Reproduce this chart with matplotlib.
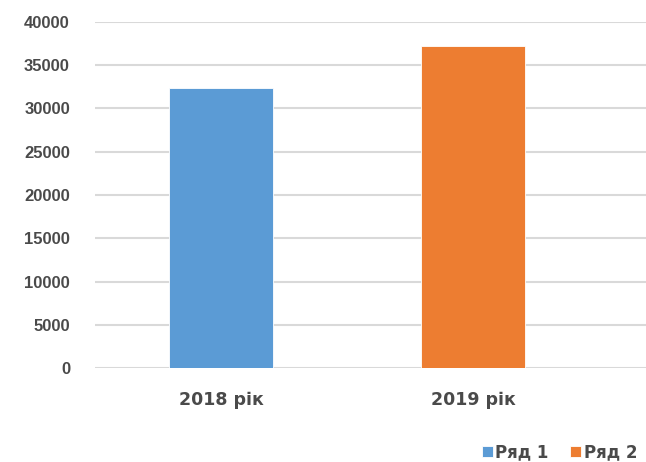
import matplotlib
matplotlib.use("Agg")
import matplotlib.pyplot as plt

categories = ["2018 рік", "2019 рік"]
series_names = ["Ряд 1", "Ряд 2"]
values = [32300, 37200]
colors = ["#5B9BD5", "#ED7D31"]
yticks = [0, 5000, 10000, 15000, 20000, 25000, 30000, 35000, 40000]

plt.rcParams['font.family'] = ['Liberation Sans', 'DejaVu Sans']
text_color = "#4a4a4a"

fig = plt.figure(figsize=(6.46, 4.62), dpi=100)
W, H = 646, 462
ax = fig.add_axes([95 / W, 1 - 368.3 / H, (646 - 95) / W, (368.3 - 21.6) / H])

bars = []
for i, (v, c, n) in enumerate(zip(values, colors, series_names)):
    b = ax.bar(i, v, width=0.413, color=c, edgecolor="white", linewidth=0.6,
               label=n, zorder=3)
    bars.append(b)

ax.set_xlim(-0.5, -0.5 + (646 - 95) / 252)
ax.set_ylim(0, 40000)
ax.set_yticks(yticks)
ax.set_yticklabels([str(t) for t in yticks])
ax.set_xticks(range(len(categories)))
ax.set_xticklabels(categories)
ax.grid(axis="y", color="#D9D9D9", linewidth=1.5, zorder=0)
for s in ["top", "right", "left", "bottom"]:
    ax.spines[s].set_visible(False)
ax.tick_params(axis="both", length=0, labelcolor=text_color)
ax.tick_params(axis="y", pad=18, labelsize=12)
ax.tick_params(axis="x", pad=16)
for lab in ax.get_yticklabels():
    lab.set_fontweight("bold")
for lab in ax.get_xticklabels():
    lab.set_fontweight("bold")
    lab.set_family(["DejaVu Sans"])
    lab.set_fontsize(12.5)

fig.legend(handles=[b[0] for b in bars], labels=series_names,
           loc="center left", bbox_to_anchor=(482 / W, 1 - 452 / H),
           ncol=2, frameon=False, borderpad=0, borderaxespad=0,
           handlelength=0.65, handleheight=0.65, handletextpad=0.15,
           columnspacing=1.3,
           prop={"weight": "bold", "size": 12, "family": ["DejaVu Sans"]},
           labelcolor=text_color)

fig.savefig("out.png", dpi=100)
